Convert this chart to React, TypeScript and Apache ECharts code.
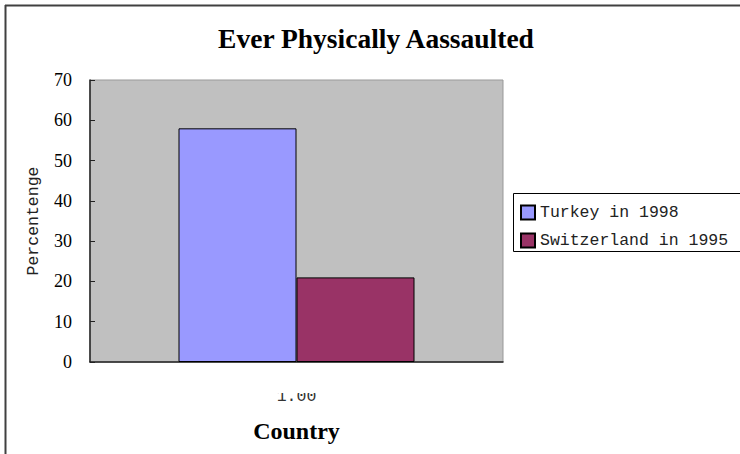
import React, { useEffect, useRef } from "react";
import * as echarts from "echarts";

const categories = ["1.00"];
const seriesNames = ["Turkey in 1998", "Switzerland in 1995"];
const turkeyValues = [58];
const switzerlandValues = [21];
const yTicks = { min: 0, max: 70, interval: 10 };

export default function App() {
  const ref = useRef<HTMLDivElement>(null);
  useEffect(() => {
    document.body.style.margin = "0";
    if (!ref.current) return;
    const chart = echarts.init(ref.current, undefined, { renderer: "svg" });
    const mono = "'Liberation Mono', monospace";
    const serif = "'Liberation Serif', serif";
    chart.setOption({
      animation: false,
      backgroundColor: "#ffffff",
      title: {
        text: "Ever Physically Aassaulted",
        left: 371,
        textAlign: "center",
        top: 19,
        textStyle: { fontFamily: serif, fontWeight: "bold", fontSize: 27.5, color: "#000" },
      },
      grid: {
        left: 90,
        top: 80,
        right: 237,
        bottom: 92,
        outerBoundsMode: "none",
        containLabel: false,
        show: true,
        backgroundColor: "#c0c0c0",
        borderColor: "#999999",
        borderWidth: 1,
      },
      legend: {
        orient: "vertical",
        left: 520,
        top: 204,
        padding: 0,
        itemWidth: 14,
        itemHeight: 14,
        itemGap: 11,
        icon: "rect",
        data: seriesNames,
        textStyle: { fontFamily: mono, fontSize: 16.5, color: "#222", lineHeight: 14 },
      },
      xAxis: {
        type: "category",
        data: categories,
        name: "Country",
        nameLocation: "middle",
        nameGap: 57,
        nameTextStyle: { fontFamily: serif, fontWeight: "bold", fontSize: 24, color: "#000" },
        axisLine: { lineStyle: { color: "#222", width: 1.5 } },
        axisTick: { inside: true, length: 6, lineStyle: { color: "#222", width: 1.5 } },
        axisLabel: { margin: 26, fontFamily: mono, fontSize: 16.5, color: "#333" },
      },
      yAxis: {
        type: "value",
        min: yTicks.min,
        max: yTicks.max,
        interval: yTicks.interval,
        name: "Percentenge",
        nameLocation: "middle",
        nameRotate: 90,
        nameGap: 48,
        nameTextStyle: { fontFamily: mono, fontSize: 16.5, color: "#222" },
        axisLine: { show: true, lineStyle: { color: "#222", width: 1.5 } },
        axisTick: { show: true, inside: true, length: 5, lineStyle: { color: "#222" } },
        splitLine: { show: false },
        axisLabel: { margin: 18, fontFamily: serif, fontSize: 18, color: "#000" },
      },
      series: [
        {
          name: seriesNames[0],
          type: "bar",
          data: turkeyValues,
          barWidth: 118,
          barGap: "0%",
          itemStyle: { color: "#9999ff", borderColor: "#000", borderWidth: 1 },
        },
        {
          name: seriesNames[1],
          type: "bar",
          data: switzerlandValues,
          barWidth: 118,
          barGap: "0%",
          itemStyle: { color: "#993366", borderColor: "#000", borderWidth: 1 },
        },
      ],
      graphic: [
        { type: "rect", z: 100, shape: { x: 200, y: 368, width: 200, height: 25 }, style: { fill: "#fff" } },
        { type: "rect", z: 90, shape: { x: 513.5, y: 193.5, width: 300, height: 58 }, style: { fill: "none", stroke: "#000", lineWidth: 1 } },
        { type: "line", z: 100, shape: { x1: 5, y1: 5.5, x2: 740, y2: 5.5 }, style: { stroke: "#404040", lineWidth: 2 } },
        { type: "line", z: 100, shape: { x1: 5.5, y1: 5, x2: 5.5, y2: 454 }, style: { stroke: "#404040", lineWidth: 2 } },
      ],
    });
    return () => chart.dispose();
  }, []);
  return <div ref={ref} style={{ width: 740, height: 454 }} />;
}
